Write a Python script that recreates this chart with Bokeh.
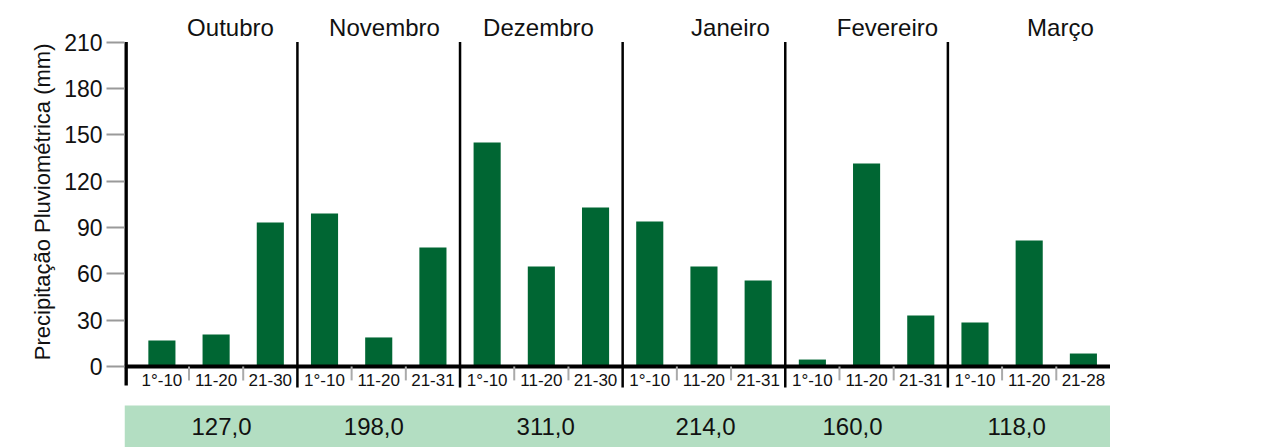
from bokeh.plotting import figure
from bokeh.models import Range1d, LinearAxis, FixedTicker, ColumnDataSource, Title
from bokeh.core.properties import value
from bokeh.embed import file_html
from bokeh.resources import INLINE

# ---------------- data ----------------
months = ["Outubro", "Novembro", "Dezembro", "Janeiro", "Fevereiro", "Março"]
periods = ["1°-10", "11-20", "21-30",
           "1°-10", "11-20", "21-31",
           "1°-10", "11-20", "21-30",
           "1°-10", "11-20", "21-31",
           "1°-10", "11-20", "21-31",
           "1°-10", "11-20", "21-28"]
rain = [16.8, 20.7, 93.2,
        99.0, 18.8, 77.0,
        145.0, 64.7, 102.9,
        93.9, 64.7, 55.7,
        4.5, 131.4, 33.0,
        28.5, 81.6, 8.4]
totals = ["127,0", "198,0", "311,0", "214,0", "160,0", "118,0"]
y_ticks = [0, 30, 60, 90, 120, 150, 180, 210]

# ---------------- layout / style ----------------
FONT = "Liberation Sans"
BAR = "#006633"
BAND = "#b3dec2"
n = len(periods)
per_month = 3
Y_BOTTOM = -52.42

p = figure(width=1110, height=447, output_backend="svg", toolbar_location=None,
           x_range=Range1d(-0.19, n), y_range=Range1d(Y_BOTTOM, 236.86),
           x_axis_location=None, y_axis_location=None,
           min_border_left=124, min_border_right=0, min_border_top=0, min_border_bottom=0)
p.outline_line_color = None
p.xgrid.visible = False
p.ygrid.visible = False
p.background_fill_color = "white"
p.border_fill_color = "white"

yaxis = LinearAxis(ticker=FixedTicker(ticks=y_ticks),
                   axis_line_color=None,
                   major_tick_out=18, major_tick_in=0,
                   major_tick_line_color="#9a9a9a", major_tick_line_width=2,
                   minor_tick_line_color=None,
                   major_label_text_font=FONT, major_label_text_font_size="23px",
                   major_label_text_color="#111111", major_label_standoff=4)
p.add_layout(yaxis, "left")

ytitle = Title(text="Precipitação Pluviométrica (mm)", align="right", offset=43,
               vertical_align="bottom", standoff=14,
               text_font=FONT, text_font_size="22px", text_font_style="normal",
               text_color="#111111")
p.add_layout(ytitle, "left")

slot_x = [i + 0.5 for i in range(n)]
src = ColumnDataSource(dict(x=slot_x, top=rain, lab=periods))

# bars
p.vbar(x="x", top="top", bottom=0, width=0.5, source=src, fill_color=BAR, line_color=None)

# green totals band
p.quad(left=-0.19, right=n, top=-25.24, bottom=Y_BOTTOM, fill_color=BAND, line_color=None)

# baseline
p.segment(x0=[-0.19], y0=[0], x1=[n], y1=[0], line_color="black", line_width=4)

# y axis line
p.segment(x0=[-0.165], y0=[y_ticks[-1]], x1=[-0.165], y1=[-12.3], line_color="black", line_width=4)

# month separators
seps = [m * per_month for m in range(1, len(months))]
p.segment(x0=seps, y0=[y_ticks[-1]] * len(seps), x1=seps, y1=[-13.6] * len(seps),
          line_color="black", line_width=2.5)

# gray sub ticks between periods
subs = [i for i in range(1, n) if i % per_month != 0]
p.segment(x0=subs, y0=[0] * len(subs), x1=subs, y1=[-9] * len(subs),
          line_color="#aaaaaa", line_width=2)

# period labels
p.text(x="x", y=-8.74, text="lab", source=src, text_font=value(FONT),
       text_font_size=value("17px"), text_align="center", text_baseline="middle",
       text_color="#111111")

# month labels
month_dx = [0.265, 0.106, -0.053, 0.489, 0.385, 0.576]
mx = [m * per_month + per_month / 2 + d for m, d in enumerate(month_dx)]
p.text(x=mx, y=[219.7] * len(months), text=months, text_font=value(FONT),
       text_font_size=value("24px"), text_align="center", text_baseline="middle",
       text_color="#111111")

# totals
tot_dx = [0.10, -0.09, 0.08, 0.03, -0.26, -0.23]
tx = [m * per_month + per_month / 2 + d for m, d in enumerate(tot_dx)]
p.text(x=tx, y=[-38.77] * len(totals), text=totals, text_font=value(FONT),
       text_font_size=value("24px"), text_align="center", text_baseline="middle",
       text_color="#111111")

open("out.html", "w").write(file_html(p, INLINE))
